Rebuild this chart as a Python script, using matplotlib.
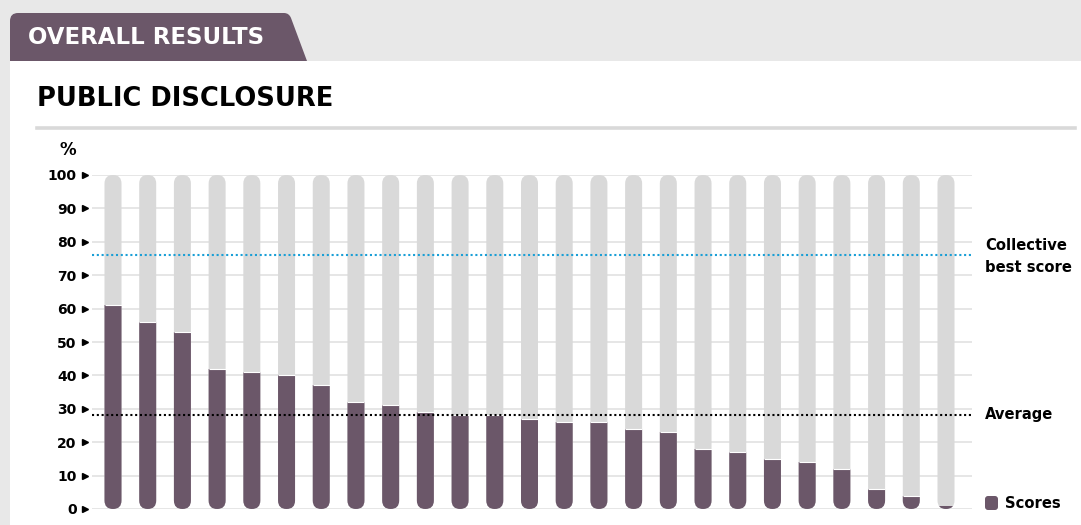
import matplotlib
matplotlib.use("Agg")
import matplotlib.pyplot as plt
from matplotlib.patches import FancyBboxPatch, Rectangle
from matplotlib.path import Path
import matplotlib.patches as mpatches

scores = [61, 56, 53, 42, 41, 40, 37, 32, 31, 29, 28, 28, 27, 26, 26,
          24, 23, 18, 17, 15, 14, 12, 6, 4, 1]
yticks = [0, 10, 20, 30, 40, 50, 60, 70, 80, 90, 100]
best_score = 76
average = 28
section_label = "OVERALL RESULTS"
title = "PUBLIC DISCLOSURE"

PURPLE = "#6b5769"
BAR_BG = "#d9d9d9"
GRID = "#e4e4e4"
CYAN = "#1a9fd6"
FONT = ["DejaVu Sans"]

W, H = 1081, 525
fig = plt.figure(figsize=(W / 100, H / 100), dpi=100)
fig.patch.set_facecolor("#e8e8e8")

def fx(px):
    return px / W

def fy(py):
    return 1 - py / H

# white panel
fig.patches.append(Rectangle((fx(10), 0), 1 - fx(10), fy(61), transform=fig.transFigure,
                             facecolor="white", edgecolor="none", zorder=-10))
# tab
r = 8
verts = [(10, 61), (10, 13 + r), (10, 13), (10 + r, 13), (284, 13), (289, 13), (291, 18),
         (307, 61), (10, 61)]
codes = [Path.MOVETO, Path.LINETO, Path.CURVE3, Path.CURVE3, Path.LINETO, Path.CURVE3,
         Path.CURVE3, Path.LINETO, Path.CLOSEPOLY]
tab = mpatches.PathPatch(Path([(fx(x), fy(y)) for x, y in verts], codes),
                         transform=fig.transFigure, facecolor=PURPLE, edgecolor="none",
                         zorder=-5)
fig.patches.append(tab)
fig.text(fx(28), fy(38), section_label, color="white", fontsize=16.5, fontweight="bold",
         family=FONT, va="center", ha="left")
fig.text(fx(37), fy(99), title, color="black", fontsize=18.5, fontweight="bold",
         family=FONT, va="center", ha="left")
fig.lines.append(plt.Line2D([fx(37), fx(1075)], [fy(128), fy(128)], transform=fig.transFigure,
                            color="#d9d9d9", linewidth=2.6, zorder=-5))

# axes
ax_l, ax_r, ax_b, ax_t = 92, 972, 509, 175
ax = fig.add_axes([fx(ax_l), fy(ax_b), fx(ax_r - ax_l), (ax_b - ax_t) / H])
ax.set_zorder(5)
ax.set_facecolor("none")
n = len(scores)
x0_px, x1_px = 113, 946
step = (x1_px - x0_px) / (n - 1)
xl = (ax_l - x0_px) / step
xr = (ax_r - x0_px) / step
ax.set_xlim(xl, xr)
ax.set_ylim(0, 100)
for s in ax.spines.values():
    s.set_visible(False)
ax.set_xticks([])
ax.set_yticks(yticks)
ax.set_yticklabels([str(t) for t in yticks], fontsize=10, fontweight="bold", family=FONT)
ax.tick_params(axis="y", length=0, pad=11)
for t in yticks:
    ax.axhline(t, color=GRID, linewidth=1.3, zorder=1)

xpp = (xr - xl) / (ax_r - ax_l)
ypp = 100 / (ax_b - ax_t)
bw = 17 * xpp
aspect = ypp / xpp
for i, v in enumerate(scores):
    bg = FancyBboxPatch((i - bw / 2, 0), bw, 100,
                        boxstyle=f"round,pad=0,rounding_size={bw / 2}",
                        mutation_aspect=aspect, facecolor=BAR_BG, edgecolor="none", zorder=2)
    ax.add_patch(bg)
    fg = FancyBboxPatch((i - bw / 2, 0), bw, 100,
                        boxstyle=f"round,pad=0,rounding_size={bw / 2}",
                        mutation_aspect=aspect, facecolor=PURPLE, edgecolor="none", zorder=3)
    ax.add_patch(fg)
    clip = Rectangle((i - bw, -5), 2 * bw, v + 5, transform=ax.transData)
    fg.set_clip_path(clip)
    if v > 3:
        ax.plot([i - bw / 2, i + bw / 2], [v, v], color="white", linewidth=0.8,
                solid_capstyle="butt", zorder=4)

# triangle tick markers
tri_x = xl - 7 * xpp
ax.plot([tri_x] * len(yticks), yticks, linestyle="none", marker=">", markersize=4.0,
        color="black", clip_on=False, zorder=5)
ax.text(xl - 16 * xpp, 100 + 25 * ypp, "%", fontsize=12, fontweight="bold", family=FONT,
        ha="right", va="center")

# reference lines
ax.axhline(best_score, color=CYAN, linewidth=1.5, linestyle=(0, (1, 1.3)), zorder=6)
ax.axhline(average, color="black", linewidth=1.5, linestyle=(0, (1, 1.3)), zorder=6)

fig.text(fx(985), fy(245), "Collective", fontsize=10.6, fontweight="bold", family=FONT,
         va="center", ha="left")
fig.text(fx(985), fy(267), "best score", fontsize=10.6, fontweight="bold", family=FONT,
         va="center", ha="left")
fig.text(fx(985), fy(414), "Average", fontsize=10.6, fontweight="bold", family=FONT,
         va="center", ha="left")
fig.patches.append(FancyBboxPatch((fx(985), fy(510)), fx(13), 14 / H,
                                  boxstyle="round,pad=0,rounding_size=0.0028",
                                  mutation_aspect=W / H,
                                  transform=fig.transFigure, facecolor=PURPLE, edgecolor="none"))
fig.text(fx(1005), fy(503), "Scores", fontsize=10.6, fontweight="bold", family=FONT,
         va="center", ha="left")

fig.savefig("out.png", dpi=100, facecolor=fig.get_facecolor())
